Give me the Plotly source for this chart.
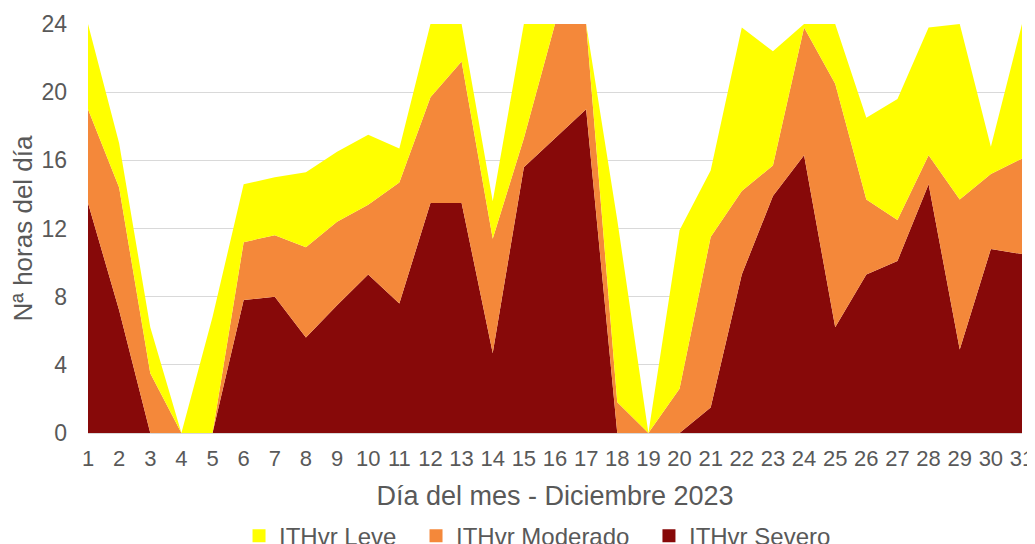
import plotly.graph_objects as go

days = list(range(1, 32))
severo = [13.5, 7.2, 0, 0, 0, 7.8, 8.0, 5.6, 7.5, 9.3, 7.6, 13.5, 13.5, 4.7, 15.6, 17.3,
          19.0, 0, 0, 0, 1.5, 9.3, 13.9, 16.3, 6.2, 9.3, 10.1, 14.6, 4.9, 10.8, 10.5]
moderado = [5.5, 7.2, 3.5, 0, 0, 3.4, 3.6, 5.3, 4.9, 4.1, 7.1, 6.2, 8.3, 6.7, 1.7, 6.7,
            5.0, 1.8, 0, 2.6, 10.0, 4.9, 1.8, 7.5, 14.3, 4.4, 2.4, 1.7, 8.8, 4.4, 5.6]
leve = [5.0, 2.6, 2.7, 0, 6.8, 3.4, 3.4, 4.4, 4.1, 4.1, 2.0, 4.3, 2.2, 2.2, 6.7, 0,
        0, 10.7, 0, 9.3, 3.9, 9.6, 6.7, 0.2, 3.5, 4.8, 7.1, 7.5, 10.3, 1.6, 7.9]

y_ticks = [0, 4, 8, 12, 16, 20, 24]
names = ["ITHvr Severo", "ITHvr Moderado", "ITHvr Leve"]
colors = ["#870909", "#F4883A", "#FFFF00"]
series = [severo, moderado, leve]
legend_ids = ["legend3", "legend2", "legend"]
legend_x = [0.6006, 0.3512, 0.1617]

FONT = "Liberation Sans, Arial, sans-serif"
GRAY = "#595959"

fig = go.Figure()
for name, vals, col in zip(names, series, colors):
    fig.add_trace(go.Scatter(
        x=days, y=vals, name=name, stackgroup="one", mode="none",
        fillcolor=col, line=dict(width=0), showlegend=False,
    ))
# legend entries (square markers)
for name, col, lid in zip(names, colors, legend_ids):
    fig.add_trace(go.Scatter(
        x=[None], y=[None], name=name, mode="markers", legend=lid,
        marker=dict(symbol="square", size=13, color=col), showlegend=True,
    ))

leg_common = dict(orientation="h", xanchor="left", y=-0.252, yanchor="middle",
                  font=dict(size=24, color=GRAY), bgcolor="rgba(0,0,0,0)")

fig.update_layout(
    width=1035, height=544,
    margin=dict(l=80, r=21, t=16, b=119, autoexpand=False),
    paper_bgcolor="white", plot_bgcolor="white",
    font=dict(family=FONT, color=GRAY, size=23),
    legend=dict(x=legend_x[2], **leg_common),
    legend2=dict(x=legend_x[1], **leg_common),
    legend3=dict(x=legend_x[0], **leg_common),
    xaxis=dict(
        range=[1, 31], tickmode="array", tickvals=days,
        ticktext=[str(d) for d in days],
        showgrid=False, showline=True, linecolor="#D9D9D9", linewidth=1,
        ticks="", ticklabelstandoff=6, zeroline=False,
        tickfont=dict(size=22, color=GRAY),
        title=dict(text="Día del mes - Diciembre 2023", font=dict(size=27, color=GRAY), standoff=15),
    ),
    yaxis=dict(
        range=[0, 24], tickmode="array", tickvals=y_ticks,
        showgrid=True, gridcolor="#D9D9D9", gridwidth=1, zeroline=False,
        ticks="", ticklabelstandoff=20,
        tickfont=dict(size=23, color=GRAY),
        title=dict(text="Nª horas del día", font=dict(size=26, color=GRAY), standoff=4),
    ),
)

fig.write_html("out.html")
